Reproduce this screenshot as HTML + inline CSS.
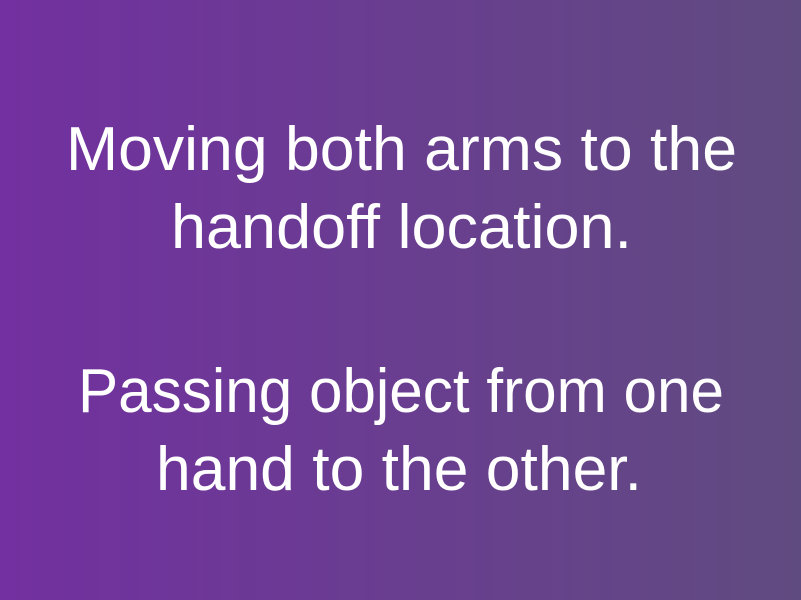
<!DOCTYPE html>
<html>
<head>
<meta charset="utf-8">
<style>
  html,body{margin:0;padding:0;width:801px;height:600px;overflow:hidden;}
  svg{display:block;}
  text{font-family:"Liberation Sans",sans-serif;fill:#ffffff;font-size:62px;}
</style>
</head>
<body>
<svg width="801" height="600" viewBox="0 0 801 600">
  <defs>
    <linearGradient id="bg" x1="0" y1="0" x2="1" y2="0">
      <stop offset="0" stop-color="#7230a0"/>
      <stop offset="1" stop-color="#604b80"/>
    </linearGradient>
  </defs>
  <rect x="0" y="0" width="801" height="600" fill="url(#bg)"/>
  <text x="66" y="170" textLength="671" lengthAdjust="spacingAndGlyphs">Moving both arms to the</text>
  <text x="171" y="248" textLength="461" lengthAdjust="spacingAndGlyphs">handoff location.</text>
  <text x="78" y="412" textLength="646" lengthAdjust="spacingAndGlyphs">Passing object from one</text>
  <text x="156" y="490" textLength="486" lengthAdjust="spacingAndGlyphs">hand to the other.</text>
</svg>
</body>
</html>
